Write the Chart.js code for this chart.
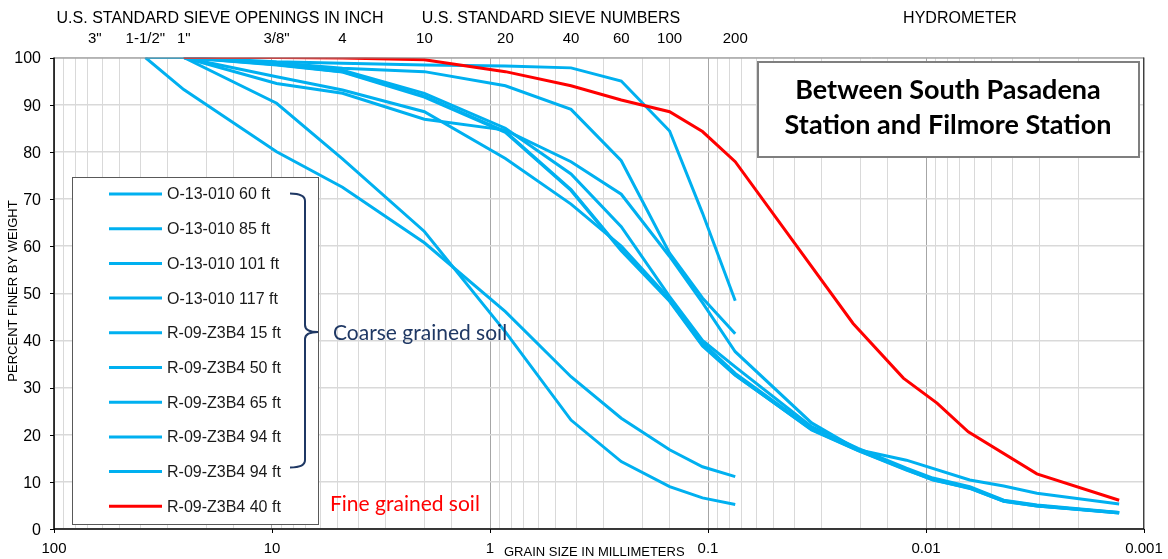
<!DOCTYPE html>
<html>
<head>
<meta charset="utf-8">
<script src="https://cdn.jsdelivr.net/npm/chart.js@4.4.1/dist/chart.umd.min.js"></script>
<style>
  html, body { margin: 0; padding: 0; background: #ffffff; }
  canvas { display: block; }
</style>
</head>
<body>
<canvas id="grading" width="1168" height="559"></canvas>
<script>
// Sieve openings (mm) used for every sieve analysis
const SIEVE_MM = [38.1, 25.4, 9.525, 4.75, 2.0, 0.85, 0.425, 0.25, 0.15, 0.106, 0.075];

// Percent finer by weight at each sieve (null = not tested)
const O13_60  = [null, 100, 99.1, 98.8, 98.4, 98.2, 97.8, 95.0, 84.4, 67.0, 48.4];
const O13_85  = [null, 100, 98.9, 97.7, 97.0, 94.0, 89.0, 78.1, 58.5, 49.0, 41.4];
const O13_101 = [100, 93.2, 80.0, 72.5, 60.7, 46.1, 32.3, 23.5, 16.8, 13.2, 11.1];
const O13_117 = [100, 100, 90.3, 78.5, 63.1, 41.8, 23.1, 14.3, 9.0, 6.6, 5.2];
const R09_15  = [null, 100, 94.5, 92.4, 86.9, 84.6, 77.9, 71.0, 57.8, 48.0, 37.6];
const R09_50  = [null, 100, 98.8, 97.3, 92.4, 85.0, 75.3, 64.1, 49.3, 40.0, 34.4];
const R09_65  = [null, 100, 95.9, 93.1, 88.5, 78.6, 68.9, 60.0, 48.8, 39.5, 33.0];
const R09_94A = [null, 100, 98.5, 97.0, 91.8, 84.3, 72.0, 59.2, 48.5, 39.0, 32.7];
const R09_94B = [null, 100, 98.4, 96.9, 91.6, 84.1, 71.8, 59.0, 48.3, 38.8, 32.6];
const R09_40  = [null, 100, 100, 99.9, 99.5, 97.0, 94.0, 91.0, 88.5, 84.3, 77.9];

// Hydrometer grain sizes (mm) and percent finer
const HYDRO_MM = [0.0335, 0.0205, 0.0123, 0.0093, 0.0063, 0.0044, 0.0031, 0.0013];
const R09_15_HYD  = [22.5, 16.8, 14.6, null, 10.4, 9.1, 7.6, 5.3];
const R09_50_HYD  = [21.7, 17.1, 12.9, 10.8, 9.0, 6.1, 5.1, 3.5];
const R09_65_HYD  = [21.3, 16.9, 12.7, 10.6, 8.8, 6.0, 5.0, 3.4];
const R09_94A_HYD = [21.0, 16.6, 12.5, 10.5, 8.6, 5.9, 4.9, 3.4];
const R09_94B_HYD = [21.1, 16.7, 12.6, 10.4, 8.7, 5.9, 4.9, 3.5];
const RED_HYDRO_MM = [0.0216, 0.0127, 0.0089, 0.0064, 0.0031, 0.0013];
const R09_40_HYD  = [43.6, 32.0, 26.7, 20.6, 11.7, 6.1];

// Axis and header labels
const Y_TICKS = [0, 10, 20, 30, 40, 50, 60, 70, 80, 90, 100];
const X_TICK_VALUES = [100, 10, 1, 0.1, 0.01, 0.001];
const X_TICK_LABELS = ['100', '10', '1', '0.1', '0.01', '0.001'];
const SIEVE_LABELS = ['3"', '1-1/2"', '1"', '3/8"', '4', '10', '20', '40', '60', '100', '200'];
const SIEVE_LABEL_MM = [65, 38.1, 25.4, 9.525, 4.75, 2.0, 0.85, 0.425, 0.25, 0.15, 0.075];

const SERIES_NAMES = [
  'O-13-010 60 ft', 'O-13-010 85 ft', 'O-13-010 101 ft', 'O-13-010 117 ft',
  'R-09-Z3B4 15 ft', 'R-09-Z3B4 50 ft', 'R-09-Z3B4 65 ft', 'R-09-Z3B4 94 ft',
  'R-09-Z3B4 94 ft', 'R-09-Z3B4 40 ft'
];

const BLUE = '#00B0F0';
const RED = '#FF0000';
const NAVY = '#1F3864';

function points(sizes, pct) {
  const out = [];
  sizes.forEach((s, i) => { if (pct[i] !== null) out.push({ x: s, y: pct[i] }); });
  return out;
}

const seriesData = [
  points(SIEVE_MM, O13_60),
  points(SIEVE_MM, O13_85),
  points(SIEVE_MM, O13_101),
  points(SIEVE_MM, O13_117),
  points(SIEVE_MM, R09_15).concat(points(HYDRO_MM, R09_15_HYD)),
  points(SIEVE_MM, R09_50).concat(points(HYDRO_MM, R09_50_HYD)),
  points(SIEVE_MM, R09_65).concat(points(HYDRO_MM, R09_65_HYD)),
  points(SIEVE_MM, R09_94A).concat(points(HYDRO_MM, R09_94A_HYD)),
  points(SIEVE_MM, R09_94B).concat(points(HYDRO_MM, R09_94B_HYD)),
  points(SIEVE_MM, R09_40).concat(points(RED_HYDRO_MM, R09_40_HYD))
];

const datasets = seriesData.map((d, i) => {
  const red = i === seriesData.length - 1;
  return {
    label: SERIES_NAMES[i],
    data: d,
    borderColor: red ? RED : BLUE,
    backgroundColor: red ? RED : BLUE,
    borderWidth: 3,
    pointRadius: 0,
    tension: 0,
    fill: false,
    order: red ? -1 : 0
  };
});

const ARIAL = '"Liberation Sans", Arial, sans-serif';
const CAL = 'Lato, "Open Sans", sans-serif';

const decorations = {
  id: 'decorations',
  afterDraw(chart) {
    const ctx = chart.ctx;
    const a = chart.chartArea;
    const xs = chart.scales.x;
    const ys = chart.scales.y;
    ctx.save();

    // plot frame
    ctx.lineWidth = 1;
    ctx.strokeStyle = '#8c8c8c';
    ctx.beginPath();
    ctx.moveTo(a.left, a.top + 0.5); ctx.lineTo(a.right, a.top + 0.5);
    ctx.stroke();
    ctx.strokeStyle = '#404040';
    ctx.beginPath();
    ctx.moveTo(a.right - 0.5, a.top); ctx.lineTo(a.right - 0.5, a.bottom);
    ctx.stroke();
    ctx.strokeStyle = '#000000';
    ctx.lineWidth = 1.5;
    ctx.beginPath();
    ctx.moveTo(a.left, a.top); ctx.lineTo(a.left, a.bottom); ctx.lineTo(a.right, a.bottom);
    ctx.stroke();

    // tick marks
    ctx.lineWidth = 1;
    ctx.beginPath();
    Y_TICKS.forEach(v => {
      const y = Math.round(ys.getPixelForValue(v)) + 0.5;
      ctx.moveTo(a.left - 4, y); ctx.lineTo(a.left, y);
    });
    X_TICK_VALUES.forEach(v => {
      const x = Math.round(xs.getPixelForValue(v)) + 0.5;
      ctx.moveTo(x, a.bottom); ctx.lineTo(x, a.bottom + 4);
    });
    ctx.stroke();

    // tick labels
    ctx.fillStyle = '#000000';
    ctx.font = '16px ' + ARIAL;
    ctx.textAlign = 'right';
    ctx.textBaseline = 'middle';
    Y_TICKS.forEach(v => {
      ctx.fillText(String(v), a.left - 13, ys.getPixelForValue(v) + 1.5);
    });
    ctx.font = '15px ' + ARIAL;
    ctx.textAlign = 'center';
    ctx.textBaseline = 'alphabetic';
    X_TICK_VALUES.forEach((v, i) => {
      ctx.fillText(X_TICK_LABELS[i], xs.getPixelForValue(v), 553);
    });

    // axis titles
    ctx.font = '13px ' + ARIAL;
    ctx.textAlign = 'left';
    ctx.fillText('GRAIN SIZE IN MILLIMETERS', 504, 556);
    ctx.save();
    ctx.translate(17, 291);
    ctx.rotate(-Math.PI / 2);
    ctx.textAlign = 'center';
    ctx.fillText('PERCENT FINER BY WEIGHT', 0, 0);
    ctx.restore();

    // header rows
    ctx.font = '16px ' + ARIAL;
    ctx.textAlign = 'center';
    ctx.fillText('U.S. STANDARD SIEVE OPENINGS IN INCH', 220, 23);
    ctx.fillText('U.S. STANDARD SIEVE NUMBERS', 551, 23);
    ctx.fillText('HYDROMETER', 960, 23);
    ctx.font = '15px ' + ARIAL;
    SIEVE_LABELS.forEach((t, i) => {
      ctx.fillText(t, xs.getPixelForValue(SIEVE_LABEL_MM[i]), 43);
    });

    // legend box
    const lx = 72.5, ly = 177.5, lw = 246, lh = 347;
    ctx.fillStyle = '#ffffff';
    ctx.fillRect(lx, ly, lw, lh);
    ctx.strokeStyle = '#595959';
    ctx.lineWidth = 1;
    ctx.strokeRect(lx, ly, lw, lh);
    ctx.font = '16px ' + ARIAL;
    ctx.textAlign = 'left';
    ctx.textBaseline = 'middle';
    chart.data.datasets.forEach((ds, i) => {
      const y = 194 + i * 34.7;
      ctx.strokeStyle = ds.borderColor;
      ctx.lineWidth = 3;
      ctx.beginPath();
      ctx.moveTo(109, y); ctx.lineTo(162, y);
      ctx.stroke();
      ctx.fillStyle = '#1a1a1a';
      ctx.fillText(ds.label, 167, y + 1);
    });

    // brace grouping the coarse grained samples
    ctx.strokeStyle = NAVY;
    ctx.lineWidth = 2;
    ctx.beginPath();
    ctx.moveTo(290, 193.5);
    ctx.quadraticCurveTo(305, 193.5, 305, 201);
    ctx.lineTo(305, 325);
    ctx.quadraticCurveTo(305, 332, 318, 332);
    ctx.quadraticCurveTo(305, 332, 305, 339);
    ctx.lineTo(305, 460);
    ctx.quadraticCurveTo(305, 467.5, 290, 467.5);
    ctx.stroke();

    ctx.font = '21px ' + CAL;
    ctx.fillStyle = NAVY;
    ctx.fillText('Coarse grained soil', 333, 333);
    ctx.fillStyle = RED;
    ctx.fillText('Fine grained soil', 330, 504);

    // title box
    const tx = 758, ty = 62, tw = 381, th = 95;
    ctx.fillStyle = '#ffffff';
    ctx.fillRect(tx, ty, tw, th);
    ctx.strokeStyle = '#7f7f7f';
    ctx.lineWidth = 2;
    ctx.strokeRect(tx, ty, tw, th);
    ctx.fillStyle = '#000000';
    ctx.font = 'bold 27px ' + CAL;
    ctx.textAlign = 'center';
    ctx.textBaseline = 'alphabetic';
    ctx.fillText('Between South Pasadena', 948, 99);
    ctx.fillText('Station and Filmore Station', 948, 134);

    ctx.restore();
  }
};

new Chart(document.getElementById('grading'), {
  type: 'line',
  data: { datasets },
  options: {
    responsive: false,
    devicePixelRatio: 1,
    animation: false,
    parsing: true,
    layout: { padding: { left: 54, right: 24, top: 57.5, bottom: 30 } },
    plugins: { legend: { display: false }, tooltip: { enabled: false } },
    scales: {
      x: {
        type: 'logarithmic',
        reverse: true,
        min: 0.001,
        max: 100,
        border: { display: false },
        ticks: { display: false },
        grid: {
          drawTicks: false,
          lineWidth: 1,
          color: (c) => {
            const v = c.tick ? c.tick.value : 1;
            const l = Math.log10(v);
            return Math.abs(l - Math.round(l)) < 1e-6 ? '#a6a6a6' : '#d9d9d9';
          }
        },
        afterFit: (s) => { s.height = 0; }
      },
      y: {
        min: 0,
        max: 100,
        border: { display: false },
        ticks: { display: false, stepSize: 10 },
        grid: { drawTicks: false, color: '#d9d9d9', lineWidth: 1.5 },
        afterFit: (s) => { s.width = 0; }
      }
    }
  },
  plugins: [decorations]
});
</script>
</body>
</html>
